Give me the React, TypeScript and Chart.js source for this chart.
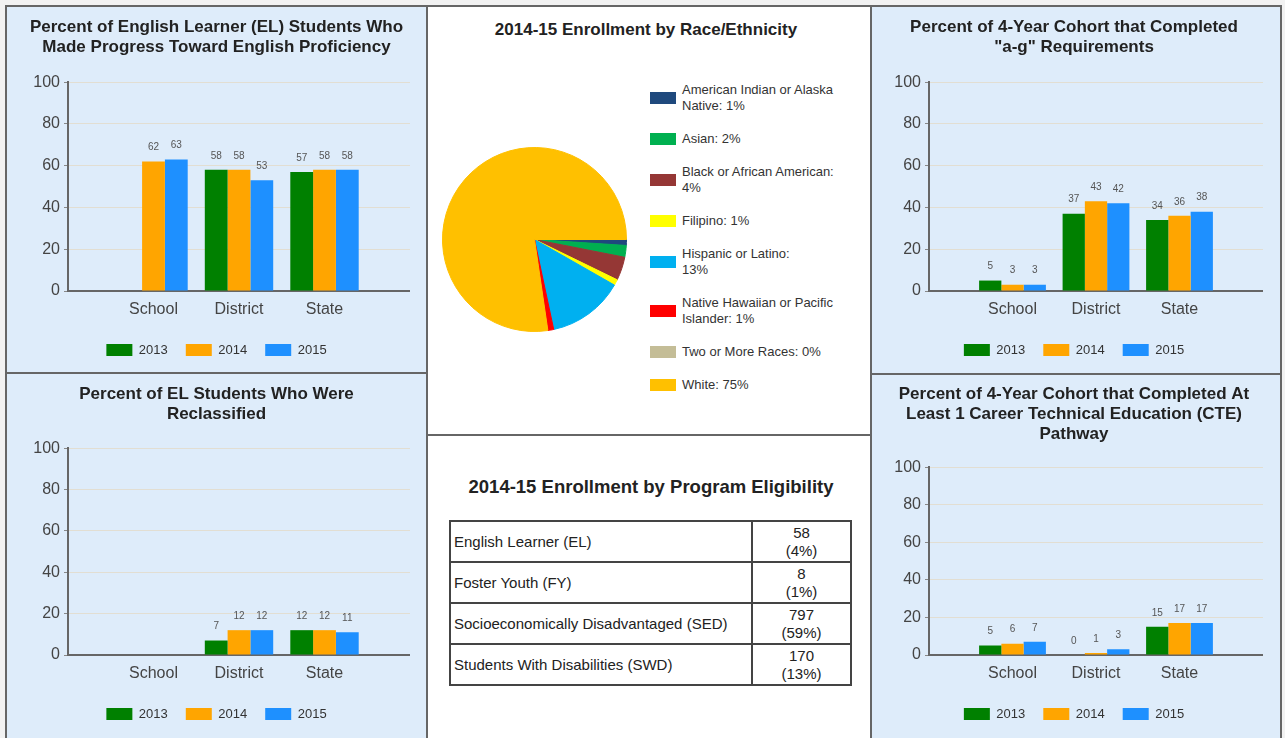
import React, { useEffect, useRef } from "react";
import { Chart, registerables } from "chart.js";

Chart.register(...registerables);

const FONT = '"Liberation Sans", Arial, Helvetica, sans-serif';

// ---------- data ----------
const categories = ["School", "District", "State"];
const years = ["2013", "2014", "2015"];
const yearColors = ["#008000", "#FFA500", "#1E90FF"];
const yTicks = [0, 20, 40, 60, 80, 100];

const elProgress2013 = [null, 58, 57];
const elProgress2014 = [62, 58, 58];
const elProgress2015 = [63, 53, 58];

const agReq2013 = [5, 37, 34];
const agReq2014 = [3, 43, 36];
const agReq2015 = [3, 42, 38];

const reclass2013 = [null, 7, 12];
const reclass2014 = [null, 12, 12];
const reclass2015 = [null, 12, 11];

const cte2013 = [5, 0, 15];
const cte2014 = [6, 1, 17];
const cte2015 = [7, 3, 17];

const raceLabels = [
  "American Indian or Alaska Native",
  "Asian",
  "Black or African American",
  "Filipino",
  "Hispanic or Latino",
  "Native Hawaiian or Pacific Islander",
  "Two or More Races",
  "White",
];
const raceValues = [1, 2, 4, 1, 13, 1, 0, 75];
const raceColors = ["#1F497D", "#00B050", "#953735", "#FFFF00", "#00B0F0", "#FF0000", "#C4BD97", "#FFC000"];
// legend text as it is printed (with its line breaks)
const raceLegendText = [
  "American Indian or Alaska\nNative: 1%",
  "Asian: 2%",
  "Black or African American:\n4%",
  "Filipino: 1%",
  "Hispanic or Latino:\n13%",
  "Native Hawaiian or Pacific\nIslander: 1%",
  "Two or More Races: 0%",
  "White: 75%",
];

const programLabels = [
  "English Learner (EL)",
  "Foster Youth (FY)",
  "Socioeconomically Disadvantaged (SED)",
  "Students With Disabilities (SWD)",
];
const programCounts = [58, 8, 797, 170];
const programPercents = [4, 1, 59, 13];

// ---------- styles ----------
const PANEL_BG = "#deecfa";
const BORDER = "#666";

const valueLabelPlugin = {
  id: "valueLabels",
  afterDatasetsDraw(chart: any) {
    const ctx = chart.ctx;
    ctx.save();
    ctx.font = `10px ${FONT}`;
    ctx.fillStyle = "#555";
    ctx.textAlign = "center";
    ctx.textBaseline = "middle";
    chart.data.datasets.forEach((ds: any, di: number) => {
      const meta = chart.getDatasetMeta(di);
      meta.data.forEach((bar: any, i: number) => {
        const v = ds.data[i];
        if (v === null || v === undefined) return;
        ctx.fillText(String(v), bar.x, bar.y - 14);
      });
    });
    ctx.restore();
  },
};

type BarProps = {
  title: string[];
  series: (number | null)[][];
  left: number;
  top: number;
  width: number;
  height: number;
  yWidth: number;
  titlePadBottom: number;
  bottomPad: number;
};

function BarPanel(p: BarProps) {
  const ref = useRef<HTMLCanvasElement | null>(null);
  useEffect(() => {
    if (!ref.current) return;
    const chart = new Chart(ref.current, {
      type: "bar",
      data: {
        labels: ["", ...categories, ""],
        datasets: years.map((y, k) => ({
          label: y,
          data: [null, ...p.series[k], null],
          backgroundColor: yearColors[k],
          borderWidth: 0,
          categoryPercentage: 0.8,
          barPercentage: 1.0,
        })),
      },
      options: {
        responsive: false,
        animation: false,
        devicePixelRatio: 1,
        layout: { padding: { left: 0, right: 0, top: 0, bottom: p.bottomPad } },
        plugins: {
          title: {
            display: true,
            text: p.title,
            color: "#222",
            font: { family: FONT, size: 17, weight: "bold", lineHeight: 1.18 },
            padding: { top: 9, bottom: p.titlePadBottom },
          },
          legend: {
            position: "bottom",
            labels: {
              boxWidth: 26,
              boxHeight: 12,
              padding: 18,
              color: "#333",
              font: { family: FONT, size: 13 },
            },
          },
          tooltip: { enabled: false },
        },
        scales: {
          x: {
            offset: false,
            grid: { drawOnChartArea: false, drawTicks: true, tickLength: 9, tickColor: "rgba(0,0,0,0)" },
            border: { color: BORDER, width: 2 },
            ticks: {
              autoSkip: false,
              maxRotation: 0,
              padding: 0,
              color: "#444",
              font: { family: FONT, size: 16 },
            },
            afterFit: (s: any) => {
              s.height = 34.5;
            },
          },
          y: {
            min: yTicks[0],
            max: yTicks[yTicks.length - 1],
            afterBuildTicks: (s: any) => {
              s.ticks = yTicks.map((v) => ({ value: v }));
            },
            ticks: { padding: 4, color: "#444", font: { family: FONT, size: 16 } },
            grid: { color: "#e2ded2", tickColor: "#888", tickLength: 4 },
            border: { color: BORDER, width: 2 },
            afterFit: (s: any) => {
              s.width = p.yWidth;
            },
          },
        },
      } as any,
      plugins: [valueLabelPlugin],
    });
    return () => chart.destroy();
  }, []);
  return (
    <canvas
      ref={ref}
      width={p.width}
      height={p.height}
      style={{ position: "absolute", left: p.left, top: p.top, width: p.width, height: p.height, display: "block" }}
    />
  );
}

function PiePanel() {
  const ref = useRef<HTMLCanvasElement | null>(null);
  useEffect(() => {
    if (!ref.current) return;
    const chart = new Chart(ref.current, {
      type: "pie",
      data: {
        labels: raceLabels,
        datasets: [
          {
            data: raceValues,
            backgroundColor: raceColors,
            borderColor: raceColors,
            borderWidth: 1,
          },
        ],
      },
      options: {
        responsive: false,
        animation: false,
        devicePixelRatio: 1,
        rotation: 90,
        layout: { padding: 0 },
        plugins: { legend: { display: false }, title: { display: false }, tooltip: { enabled: false } },
      } as any,
    });
    return () => chart.destroy();
  }, []);
  return (
    <canvas
      ref={ref}
      width={185}
      height={185}
      style={{ position: "absolute", left: 441.5, top: 146.5, width: 185, height: 185, display: "block" }}
    />
  );
}

const panel = (left: number, top: number, right: number, bottom: number, bg: string): React.CSSProperties => ({
  position: "absolute",
  left,
  top,
  width: right - left,
  height: bottom - top,
  boxSizing: "border-box",
  border: `2px solid ${BORDER}`,
  background: bg,
});

export default function App() {
  return (
    <div
      style={{
        position: "absolute",
        left: 0,
        top: 0,
        width: 1285,
        height: 738,
        overflow: "hidden",
        background: "#f2f2f2",
        fontFamily: FONT,
      }}
    >
      <div style={panel(5, 5, 428, 374, PANEL_BG)} />
      <div style={panel(870, 5, 1282, 375, PANEL_BG)} />
      <div style={panel(5, 372, 428, 745, PANEL_BG)} />
      <div style={panel(870, 373, 1282, 745, PANEL_BG)} />
      <div style={panel(426, 5, 872, 436, "#fff")} />
      <div style={panel(426, 434, 872, 745, "#fff")} />

      <BarPanel
        title={["Percent of English Learner (EL) Students Who", "Made Progress Toward English Proficiency"]}
        series={[elProgress2013, elProgress2014, elProgress2015]}
        left={23}
        top={8}
        width={387}
        height={370}
        yWidth={45}
        titlePadBottom={25}
        bottomPad={11.5}
      />
      <BarPanel
        title={["Percent of 4-Year Cohort that Completed", '"a-g" Requirements']}
        series={[agReq2013, agReq2014, agReq2015]}
        left={885}
        top={8}
        width={378}
        height={370}
        yWidth={44}
        titlePadBottom={25}
        bottomPad={11.5}
      />
      <BarPanel
        title={["Percent of EL Students Who Were", "Reclassified"]}
        series={[reclass2013, reclass2014, reclass2015]}
        left={23}
        top={375}
        width={387}
        height={363}
        yWidth={45}
        titlePadBottom={24}
        bottomPad={7.5}
      />
      <BarPanel
        title={["Percent of 4-Year Cohort that Completed At", "Least 1 Career Technical Education (CTE)", "Pathway"]}
        series={[cte2013, cte2014, cte2015]}
        left={885}
        top={375}
        width={378}
        height={363}
        yWidth={44}
        titlePadBottom={23}
        bottomPad={7.5}
      />

      {/* Race / ethnicity pie */}
      <div
        style={{
          position: "absolute",
          left: 425,
          top: 20,
          width: 442,
          textAlign: "center",
          fontWeight: "bold",
          fontSize: 17,
          lineHeight: "20px",
          color: "#222",
        }}
      >
        2014-15 Enrollment by Race/Ethnicity
      </div>
      <PiePanel />
      <div
        style={{
          position: "absolute",
          left: 650,
          top: 82,
          display: "flex",
          flexDirection: "column",
          gap: 17,
        }}
      >
        {raceLegendText.map((txt, i) => (
          <div key={raceLabels[i]} style={{ display: "flex", alignItems: "center" }}>
            <div style={{ width: 26, height: 12, background: raceColors[i], marginRight: 6, flex: "none" }} />
            <div style={{ width: 170, fontSize: 13, lineHeight: "16px", color: "#333", whiteSpace: "pre" }}>
              {txt}
            </div>
          </div>
        ))}
      </div>

      {/* Program eligibility table */}
      <div
        style={{
          position: "absolute",
          left: 428,
          top: 476,
          width: 446,
          textAlign: "center",
          fontWeight: "bold",
          fontSize: 18.5,
          lineHeight: "22px",
          color: "#222",
        }}
      >
        2014-15 Enrollment by Program Eligibility
      </div>
      <table
        style={{
          position: "absolute",
          left: 449,
          top: 520,
          width: 403,
          borderCollapse: "collapse",
          border: "2px solid #444",
          fontSize: 15,
          lineHeight: "18px",
          color: "#222",
        }}
      >
        <tbody>
          {programLabels.map((lab, i) => (
            <tr key={lab} style={{ height: 41 }}>
              <td style={{ border: "2px solid #444", padding: "2px 3px", width: 294 }}>{lab}</td>
              <td style={{ border: "2px solid #444", padding: "0px 2px", textAlign: "center" }}>
                {programCounts[i]}
                <br />({programPercents[i]}%)
              </td>
            </tr>
          ))}
        </tbody>
      </table>
    </div>
  );
}
